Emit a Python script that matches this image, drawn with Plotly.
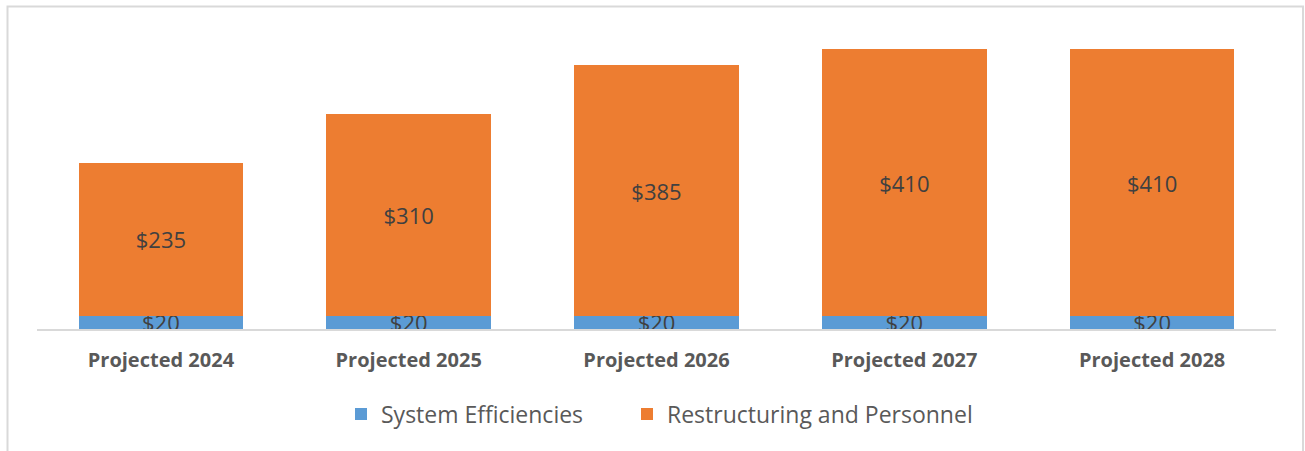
import plotly.graph_objects as go

categories = ["Projected 2024", "Projected 2025", "Projected 2026", "Projected 2027", "Projected 2028"]
system_efficiencies = [20, 20, 20, 20, 20]
restructuring_personnel = [235, 310, 385, 410, 410]

BLUE = "#5B9BD5"
ORANGE = "#ED7D31"
TXT = "#404040"
FONT = "Open Sans, Noto Sans, sans-serif"

fig = go.Figure()
fig.add_trace(go.Bar(
    x=categories, y=system_efficiencies, name="System Efficiencies",
    marker=dict(color=BLUE, line=dict(width=0)),
    text=[f"${v}" for v in system_efficiencies], textposition="inside",
    insidetextanchor="middle", textangle=0,
    textfont=dict(color=TXT, size=22, family=FONT),
    legend="legend",
))
fig.add_trace(go.Bar(
    x=categories, y=restructuring_personnel, name="Restructuring and Personnel",
    marker=dict(color=ORANGE, line=dict(width=0)),
    text=[f"${v}" for v in restructuring_personnel], textposition="inside",
    insidetextanchor="middle", textangle=0,
    textfont=dict(color=TXT, size=22, family=FONT),
    legend="legend2",
))

W, H = 1305, 451
L, R, T, B = 37, 29, 36, 122
ph = H - T - B
pw = W - L - R

def px_x(x):
    return (x - L) / pw

def px_y(y):
    return (H - B - y) / ph

legend_common = dict(
    orientation="h", xanchor="left", y=px_y(414), yanchor="middle",
    font=dict(family=FONT, size=23, color="#595959"),
    bgcolor="rgba(0,0,0,0)",
)

fig.update_layout(
    width=W, height=H,
    barmode="stack", bargap=0.335,
    margin=dict(l=L, r=R, t=T, b=B, pad=0),
    paper_bgcolor="white", plot_bgcolor="white",
    font=dict(family=FONT, color=TXT),
    uniformtext=dict(minsize=22, mode="show"),
    xaxis=dict(
        showline=True, linecolor="#D9D9D9", linewidth=2,
        ticks="", showgrid=False,
        tickfont=dict(family=FONT, size=20, color="#595959", weight="bold"),
        ticklabelstandoff=12,
    ),
    yaxis=dict(range=[0, 450], visible=False, showgrid=False, zeroline=False),
    legend=dict(x=px_x(341), **legend_common),
    legend2=dict(x=px_x(627), **legend_common),
    showlegend=True,
    shapes=[dict(
        type="rect", xref="paper", yref="paper",
        x0=px_x(7.5), x1=px_x(1303), y0=px_y(470), y1=px_y(6.5),
        line=dict(color="#D9D9D9", width=2), fillcolor="rgba(0,0,0,0)", layer="below",
    )],
)

fig.write_html(
    "out.html",
    config={"displayModeBar": False},
    post_script="document.body.style.margin='0';document.body.style.padding='0';",
)
